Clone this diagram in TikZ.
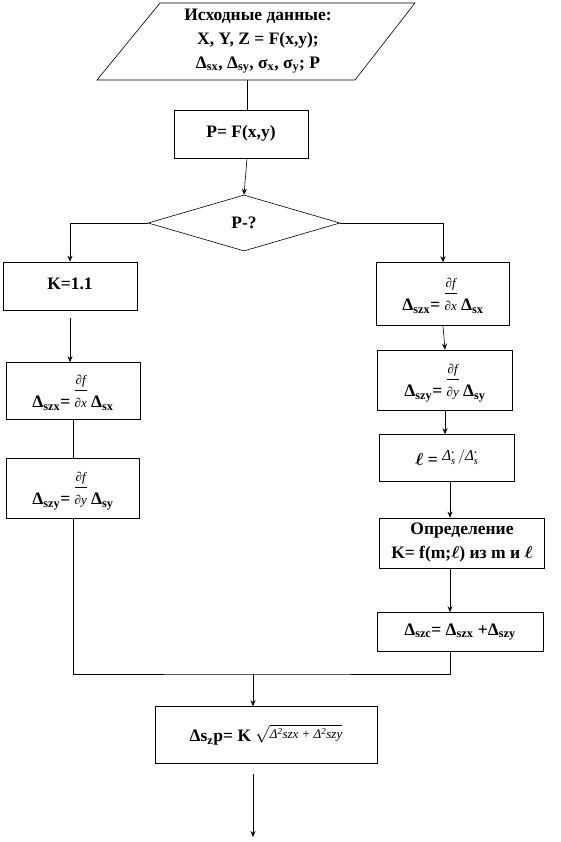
\documentclass[tikz,border=0pt]{standalone}
\usepackage{fontspec,amsmath}
\setmainfont{Liberation Serif}
\usetikzlibrary{shapes.geometric,arrows.meta}

\newcommand{\mfs}{\fontsize{13}{14}\selectfont\mdseries\itshape}
\newcommand{\pdf}[1]{\begin{tabular}[b]{@{}c@{}}\mfs ∂f\\[-1pt]\hline\rule{0pt}{11pt}\mfs ∂#1\end{tabular}}
\newcommand{\dls}{\text{\mdseries\itshape Δ}^{\boldsymbol{\cdot}}_{\text{\mdseries\itshape s}}}

\begin{document}
\begin{tikzpicture}[x=1pt,y=-1pt,line width=0.6pt,>={Stealth[length=6pt,width=5pt]},
    every node/.style={font=\fontsize{17.5}{24}\selectfont\bfseries,align=center},
    blk/.style={draw,rectangle,inner sep=2pt},
    cond/.style={draw,diamond,aspect=3.4,inner sep=0pt,minimum width=192pt,minimum height=56pt}]
            \useasboundingbox (0,0) rectangle (561,842);
            % input
            \draw (160,3) -- (415,3) -- (355,80) -- (97,80) -- cycle;
            \node (src) at (258,41) {Исходные данные:\\X, Y, Z = F(x,y);\\Δ\textsubscript{sx}, Δ\textsubscript{sy}, σ\textsubscript{x}, σ\textsubscript{y}; P};
            \coordinate (srcb) at (247,80);
            \node[blk,minimum width=134pt,minimum height=48pt] (pf) at (241,134) {\raisebox{5pt}{P= F(x,y)}};
            \node[cond] (dia) at (244,223) {P-?};
            % left branch
            \node[blk,minimum width=134pt,minimum height=48pt] (k) at (70,286) {\raisebox{5pt}{K=1.1}};
            \node[blk,minimum width=134pt,minimum height=57pt] (lx) at (73,391) {Δ\textsubscript{szx}= \pdf{x} Δ\textsubscript{sx}};
            \node[blk,minimum width=133pt,minimum height=60pt] (ly) at (73,488) {Δ\textsubscript{szy}= \pdf{y} Δ\textsubscript{sy}};
            % right branch
            \node[blk,minimum width=133pt,minimum height=63pt] (rx) at (443,294) {Δ\textsubscript{szx}= \pdf{x} Δ\textsubscript{sx}};
            \node[blk,minimum width=135pt,minimum height=60pt] (ry) at (445,380) {Δ\textsubscript{szy}= \pdf{y} Δ\textsubscript{sy}};
            \node[blk,minimum width=135pt,minimum height=47pt] (rl) at (447,458) {$\boldsymbol{\ell}$ = \raisebox{5pt}{\fontsize{15}{16}\selectfont$\dls\,/\dls$}};
            \node[blk,minimum width=165pt,minimum height=50pt] (rk) at (462,543) {Определение\\K= f(m;$\boldsymbol{\ell}$) из m и $\boldsymbol{\ell}$};
            \node[blk,minimum width=166pt,minimum height=39pt] (rc) at (460,632) {Δ\textsubscript{szc}= Δ\textsubscript{szx} +Δ\textsubscript{szy}};
            \coordinate (rcol) at (450,0);
            % result
            \coordinate (jn) at (253,674);
            \node[blk,minimum width=222pt,minimum height=57pt] (res) at (266,735) {Δs\textsubscript{z}p= K \raisebox{3pt}{$\sqrt{\text{\mfs Δ\textsuperscript{2}szx + Δ\textsuperscript{2}szy}}$}};
            \coordinate (out) at (253,837);

            \draw (srcb) -- (srcb |- pf.north);
            \draw[->] (pf.south -| srcb) -- (dia.north);
            \draw[->] (dia.west) -| (k.north);
            \draw[->] (dia.east) -| (rx.north);
            \draw[->,shorten <=8pt] (k.south) -- (k.south |- lx.north);
            \draw (lx.south) -- (ly.north);
            \draw[->] (rx.south) -- (ry.north);
            \draw[->] (ry.south) -- (ry.south |- rl.north);
            \draw[->] (rl.south -| rcol) -- (rk.north -| rcol);
            \draw[->] (rk.south -| rcol) -- (rc.north -| rcol);
            \draw (ly.south) |- (jn) -| (rc.south -| rcol);
            \draw[->] (jn) -- (jn |- res.north);
            \draw[->,shorten <=10pt] (res.south -| out) -- (out);
        \end{tikzpicture}
\end{document}
